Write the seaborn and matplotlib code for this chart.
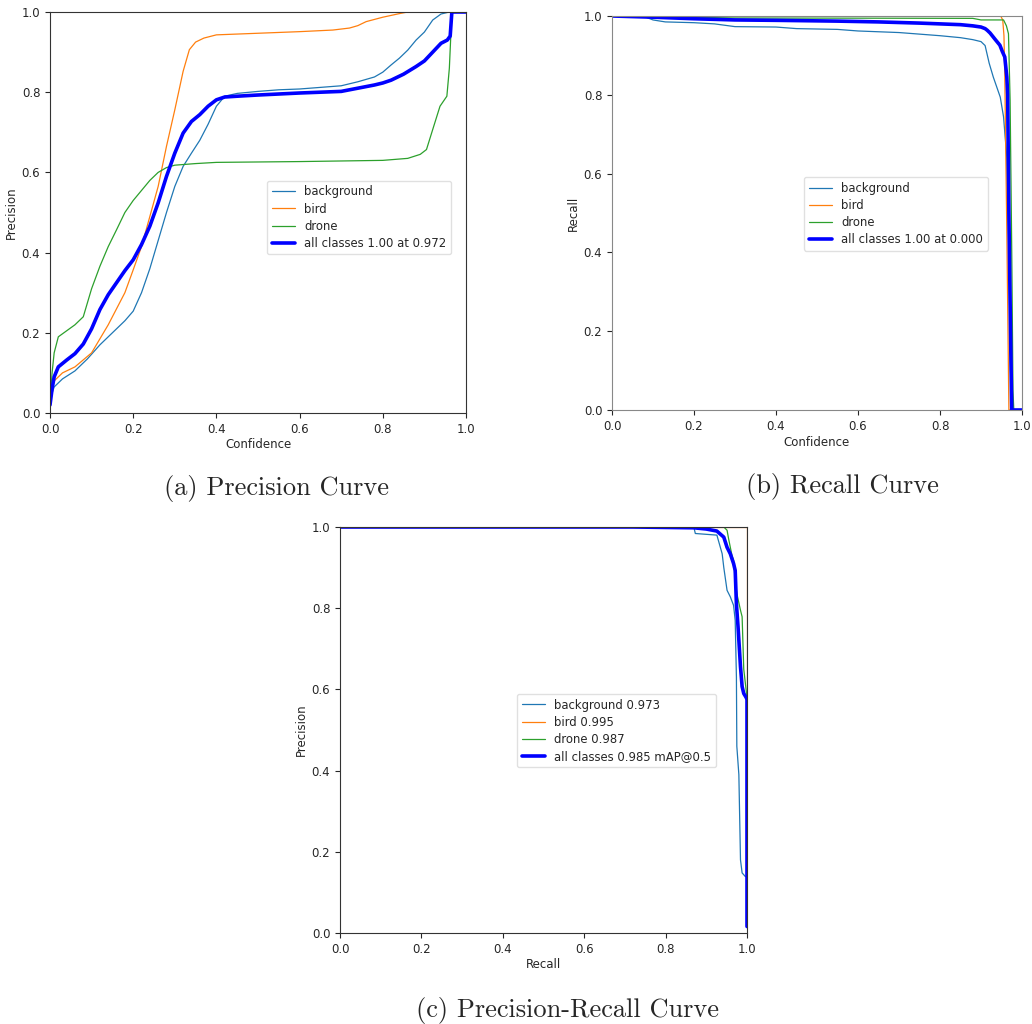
import matplotlib
matplotlib.use("Agg")
import matplotlib.pyplot as plt
import seaborn as sns
import pandas as pd

# ---- (a) precision vs confidence ----
conf_bg = [0, 0.005, 0.01, 0.03, 0.06, 0.09, 0.12, 0.15, 0.18, 0.2, 0.22, 0.24, 0.26, 0.28, 0.3,
           0.32, 0.34, 0.36, 0.38, 0.4, 0.42, 0.45, 0.5, 0.55, 0.6, 0.65, 0.7, 0.74, 0.78, 0.8,
           0.82, 0.84, 0.86, 0.88, 0.9, 0.92, 0.94, 0.96, 1.0]
prec_bg = [0.02, 0.05, 0.065, 0.085, 0.105, 0.135, 0.17, 0.2, 0.23, 0.254, 0.3, 0.36, 0.43, 0.5, 0.565,
           0.615, 0.648, 0.68, 0.72, 0.765, 0.79, 0.797, 0.802, 0.806, 0.808, 0.812, 0.816, 0.826, 0.838, 0.85,
           0.868, 0.885, 0.905, 0.93, 0.95, 0.98, 0.995, 1.0, 1.0]

conf_bird = [0, 0.005, 0.01, 0.03, 0.06, 0.1, 0.14, 0.18, 0.2, 0.22, 0.24, 0.26, 0.28, 0.3, 0.32,
             0.335, 0.35, 0.37, 0.4, 0.5, 0.6, 0.68, 0.72, 0.74, 0.76, 0.8, 0.84, 0.86, 1.0]
prec_bird = [0.02, 0.06, 0.08, 0.1, 0.115, 0.15, 0.22, 0.3, 0.357, 0.415, 0.49, 0.565, 0.665, 0.756, 0.852,
             0.906, 0.925, 0.935, 0.943, 0.947, 0.951, 0.955, 0.96, 0.966, 0.976, 0.987, 0.996, 1.0, 1.0]

conf_drone = [0, 0.005, 0.01, 0.02, 0.04, 0.06, 0.08, 0.1, 0.12, 0.14, 0.16, 0.18, 0.2, 0.22, 0.24,
              0.26, 0.28, 0.3, 0.35, 0.4, 0.6, 0.8, 0.86, 0.89, 0.905, 0.92, 0.9375, 0.954, 0.96, 0.966, 1.0]
prec_drone = [0.02, 0.1, 0.15, 0.19, 0.205, 0.22, 0.24, 0.31, 0.366, 0.415, 0.457, 0.5, 0.53, 0.555, 0.58,
              0.6, 0.612, 0.618, 0.622, 0.625, 0.627, 0.63, 0.635, 0.645, 0.657, 0.707, 0.765, 0.79, 0.86, 1.0, 1.0]

conf_all = [0, 0.005, 0.01, 0.02, 0.04, 0.06, 0.08, 0.1, 0.12, 0.14, 0.16, 0.18, 0.2, 0.22, 0.24, 0.26,
            0.28, 0.3, 0.32, 0.34, 0.36, 0.38, 0.4, 0.42, 0.45, 0.5, 0.6, 0.7, 0.74, 0.78, 0.8, 0.82,
            0.85, 0.88, 0.9, 0.92, 0.94, 0.955, 0.962, 0.966, 0.972, 1.0]
prec_all = [0.02, 0.06, 0.09, 0.115, 0.132, 0.148, 0.172, 0.21, 0.258, 0.295, 0.325, 0.355, 0.382, 0.42,
            0.466, 0.524, 0.59, 0.648, 0.698, 0.727, 0.744, 0.765, 0.781, 0.788, 0.79, 0.793, 0.798, 0.802,
            0.81, 0.818, 0.823, 0.83, 0.845, 0.864, 0.878, 0.9, 0.922, 0.93, 0.94, 1.0, 1.0, 1.0]

# ---- (b) recall vs confidence ----
rconf_bg = [0, 0.08, 0.1, 0.13, 0.2, 0.25, 0.3, 0.4, 0.45, 0.55, 0.6, 0.7, 0.75, 0.8, 0.85, 0.88,
            0.9, 0.91, 0.92, 0.93, 0.947, 0.955, 0.963, 0.968, 0.972, 0.976, 1.0]
rec_bg = [1.0, 0.998, 0.99, 0.985, 0.983, 0.98, 0.973, 0.972, 0.968, 0.966, 0.962, 0.958, 0.954, 0.95,
          0.945, 0.94, 0.935, 0.925, 0.88, 0.845, 0.794, 0.744, 0.64, 0.4, 0.1, 0.0, 0.0]

rconf_bird = [0, 0.948, 0.953, 0.956, 0.958, 0.963, 0.968, 1.0]
rec_bird = [1.0, 1.0, 0.99, 0.95, 0.85, 0.45, 0.0, 0.0]

rconf_drone = [0, 0.3, 0.88, 0.9, 0.955, 0.962, 0.967, 0.971, 0.975, 0.978, 0.98, 1.0]
rec_drone = [1.0, 0.995, 0.994, 0.99, 0.99, 0.975, 0.955, 0.786, 0.4, 0.05, 0.0, 0.0]

rconf_all = [0, 0.1, 0.2, 0.3, 0.4, 0.55, 0.65, 0.75, 0.85, 0.88, 0.9, 0.91, 0.915, 0.922, 0.935,
             0.946, 0.952, 0.958, 0.963, 0.965, 0.968, 0.972, 0.975, 1.0]
rec_all = [1.0, 0.997, 0.993, 0.99, 0.989, 0.987, 0.985, 0.982, 0.978, 0.975, 0.972, 0.968, 0.964, 0.957,
           0.94, 0.926, 0.91, 0.896, 0.845, 0.8, 0.5, 0.2, 0.0, 0.0]

# ---- (c) precision vs recall ----
pr_rec_bg = [0, 0.73, 0.87, 0.873, 0.926, 0.939, 0.943, 0.951, 0.959, 0.967, 0.971, 0.974, 0.975,
             0.98, 0.984, 0.988, 0.996, 1.0, 1.0]
pr_prec_bg = [1.0, 1.0, 0.997, 0.984, 0.98, 0.934, 0.9, 0.844, 0.828, 0.807, 0.77, 0.63, 0.46,
              0.39, 0.18, 0.148, 0.139, 0.139, 0.016]

pr_rec_bird = [0, 0.998, 1.0, 1.0]
pr_prec_bird = [1.0, 1.0, 1.0, 0.02]

pr_rec_drone = [0, 0.943, 0.951, 0.955, 0.959, 0.963, 0.967, 0.971, 0.975, 0.984, 0.988, 0.992, 0.996, 1.0, 1.0]
pr_prec_drone = [1.0, 1.0, 0.992, 0.97, 0.95, 0.93, 0.918, 0.87, 0.836, 0.795, 0.779, 0.65, 0.615, 0.58, 0.02]

pr_rec_all = [0, 0.72, 0.87, 0.9, 0.926, 0.943, 0.951, 0.959, 0.967, 0.971, 0.974, 0.978, 0.984,
              0.988, 0.992, 0.998, 1.0, 1.0]
pr_prec_all = [1.0, 1.0, 0.998, 0.995, 0.99, 0.975, 0.95, 0.934, 0.91, 0.893, 0.81, 0.754, 0.656,
               0.607, 0.59, 0.58, 0.575, 0.016]

labels_a = ["background", "bird", "drone", "all classes 1.00 at 0.972"]
labels_b = ["background", "bird", "drone", "all classes 1.00 at 0.000"]
labels_c = ["background 0.973", "bird 0.995", "drone 0.987", "all classes 0.985 mAP@0.5"]
colors = ["#1f77b4", "#ff7f0e", "#2ca02c", "blue"]
widths = [0.9, 0.9, 0.9, 2.6]

sns.set_style("ticks")
plt.rcParams["font.family"] = ["DejaVu Sans"]

fig = plt.figure(figsize=(10.32, 10.24), dpi=100)
ax_a = fig.add_axes([50 / 1032, 1 - 413 / 1024, 416 / 1032, 401 / 1024])
ax_b = fig.add_axes([612 / 1032, 1 - 410 / 1024, 410 / 1032, 394 / 1024])
ax_c = fig.add_axes([340 / 1032, 1 - 933 / 1024, 407 / 1032, 406 / 1024])


def draw(ax, series, labels, xlabel, ylabel, anchor):
    for (xs, ys), lab, col, lw in zip(series, labels, colors, widths):
        df = pd.DataFrame({"x": xs, "y": ys})
        sns.lineplot(data=df, x="x", y="y", ax=ax, color=col, linewidth=lw,
                     label=lab, estimator=None, sort=False)
    ax.set_xlim(0, 1)
    ax.set_ylim(0, 1)
    ax.set_xticks([0, 0.2, 0.4, 0.6, 0.8, 1.0])
    ax.set_yticks([0, 0.2, 0.4, 0.6, 0.8, 1.0])
    ax.tick_params(labelsize=8.5, length=3.5, width=0.8)
    ax.set_xlabel(xlabel, fontsize=8.5, labelpad=2)
    ax.set_ylabel(ylabel, fontsize=8.5, labelpad=3)
    for s in ax.spines.values():
        s.set_linewidth(0.8)
        s.set_color("#333333")
    ax.legend(loc="upper right", bbox_to_anchor=anchor, borderaxespad=0, fontsize=8.4,
              frameon=True, framealpha=0.8, edgecolor="0.85", fancybox=True,
              handlelength=2.0, borderpad=0.4, labelspacing=0.35)


draw(ax_a, [(conf_bg, prec_bg), (conf_bird, prec_bird), (conf_drone, prec_drone), (conf_all, prec_all)],
     labels_a, "Confidence", "Precision", (0.964, 0.579))
draw(ax_b, [(rconf_bg, rec_bg), (rconf_bird, rec_bird), (rconf_drone, rec_drone), (rconf_all, rec_all)],
     labels_b, "Confidence", "Recall", (0.917, 0.591))
draw(ax_c, [(pr_rec_bg, pr_prec_bg), (pr_rec_bird, pr_prec_bird), (pr_rec_drone, pr_prec_drone),
            (pr_rec_all, pr_prec_all)],
     labels_c, "Recall", "Precision", (0.924, 0.589))

for sp in ax_b.spines.values():
    sp.set_color("#888888")

cap = dict(fontsize=19, family="cmr10", ha="center", va="center")
fig.text(277 / 1032, 1 - 489 / 1024, "(a) Precision Curve", **cap)
fig.text(842 / 1032, 1 - 486 / 1024, "(b) Recall Curve", **cap)
fig.text(567 / 1032, 1 - 1010 / 1024, "(c) Precision-Recall Curve", **cap)

fig.savefig("out.png", dpi=100)
